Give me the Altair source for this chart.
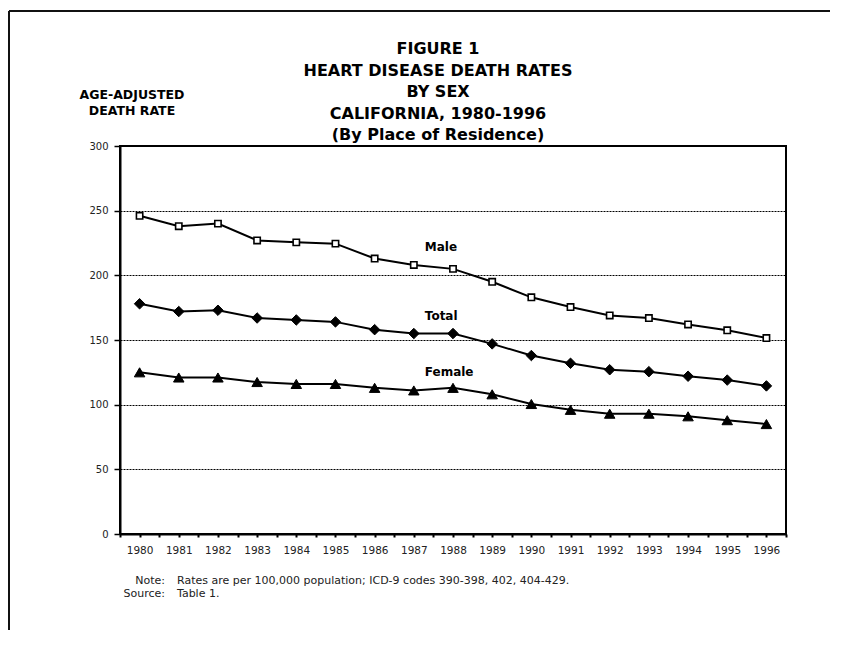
import altair as alt
import pandas as pd

# ---- data ----
years = list(range(1980, 1997))
male = [246, 238, 240, 227, 225.5, 224.5, 213, 208, 205, 195, 183, 175.5, 169, 167, 162, 157.5, 151.5]
total = [178, 172, 173, 167, 165.5, 164, 158, 155, 155, 147, 138, 132, 127, 125.5, 122, 119, 114.5]
female = [125, 121, 121, 117.5, 116, 116, 113, 111, 113, 108, 100.5, 96, 93, 93, 91, 88, 85]
series_names = ["Male", "Total", "Female"]
series_values = [male, total, female]

label_texts = ["Male", "Total", "Female"]
label_x = [1987.28, 1987.28, 1987.28]
label_y = [221.9, 168.8, 125.5]

title_lines = ["FIGURE 1", "HEART DISEASE DEATH RATES", "BY SEX",
               "CALIFORNIA, 1980-1996", "(By Place of Residence)"]
y_title_lines = ["AGE-ADJUSTED", "DEATH RATE"]
y_ticks = [0, 50, 100, 150, 200, 250, 300]
x_ticks = [1979.5 + 0.5 * i for i in range(35)]
note_heads = ["Note:", "Source:"]
note_bodies = ["Rates are per 100,000 population; ICD-9 codes 390-398, 402, 404-429.",
               "Table 1."]

FONT = "DejaVu Sans"

rows = []
for name, vals in zip(series_names, series_values):
    for yr, v in zip(years, vals):
        rows.append({"year": yr, "rate": v, "series": name})
df = pd.DataFrame(rows)
labels_df = pd.DataFrame({"year": label_x, "rate": label_y, "text": label_texts})

xs = alt.Scale(domain=[1979.5, 1996.5], nice=False, zero=False)
ys = alt.Scale(domain=[0, 300], nice=False)

x_axis = alt.Axis(values=x_ticks, title=None, grid=False,
                  labelExpr="datum.value % 1 === 0 ? toString(datum.value) : ''",
                  labelOverlap=False, labelFlush=False, tickSize=3, tickWidth=2,
                  tickColor="black", labelPadding=8, labelFontSize=10.5,
                  labelFont=FONT, labelColor="#222", domainWidth=2, domainColor="black")
y_axis = alt.Axis(values=y_ticks, grid=True, gridColor="black", gridDash=[2, 1],
                  gridWidth=1, tickSize=6, tickWidth=1.5, tickColor="black",
                  labelPadding=6, labelFontSize=10, labelFont=FONT, labelColor="#222",
                  domainWidth=2, domainColor="black",
                  title=y_title_lines, titleAngle=0, titleX=11.5, titleY=-52,
                  titleAlign="center", titleBaseline="middle", titleFont=FONT,
                  titleFontSize=12.5, titleFontWeight="bold", titleLineHeight=16,
                  titleColor="black")

X = alt.X("year:Q", scale=xs, axis=x_axis)
Y = alt.Y("rate:Q", scale=ys, axis=y_axis)

lines = alt.Chart(df).mark_line(color="black", strokeWidth=2).encode(
    x=X, y=Y, detail="series:N")

marker_spec = {
    "Male": dict(shape="square", fill="white", size=40, strokeWidth=1.6),
    "Total": dict(shape="diamond", fill="black", size=110, strokeWidth=1),
    "Female": dict(shape="triangle-up", fill="black", size=110, strokeWidth=1),
}
point_layers = []
for name in series_names:
    s = marker_spec[name]
    point_layers.append(
        alt.Chart(df).transform_filter(alt.datum.series == name).mark_point(
            shape=s["shape"], filled=True, fill=s["fill"], stroke="black",
            strokeWidth=s["strokeWidth"], size=s["size"], opacity=1
        ).encode(x=X, y=Y)
    )

series_labels = alt.Chart(labels_df).mark_text(
    align="left", baseline="middle", font=FONT, fontSize=12, fontWeight="bold",
    color="black").encode(x=X, y=Y, text="text:N")

title_df = pd.DataFrame({"text": ["\n".join(title_lines)]})
title = alt.Chart(title_df).mark_text(
    align="center", baseline="middle", font=FONT, fontSize=16, fontWeight="bold",
    lineBreak="\n", lineHeight=21.5, color="black"
).encode(x=alt.value(318), y=alt.value(-97), text="text:N")

heads_df = pd.DataFrame({"text": ["\n".join(note_heads)]})
heads = alt.Chart(heads_df).mark_text(
    align="right", baseline="middle", font=FONT, fontSize=11, lineBreak="\n",
    lineHeight=13.6, color="#222"
).encode(x=alt.value(45), y=alt.value(434.7), text="text:N")

bodies_df = pd.DataFrame({"text": ["\n".join(note_bodies)]})
bodies = alt.Chart(bodies_df).mark_text(
    align="left", baseline="middle", font=FONT, fontSize=11, lineBreak="\n",
    lineHeight=13.6, color="#222"
).encode(x=alt.value(57), y=alt.value(434.7), text="text:N")

frame_df = pd.DataFrame({"k": [0]})
frame_top = alt.Chart(frame_df).mark_rule(color="#111", strokeWidth=2).encode(
    x=alt.value(-111), x2=alt.value(710), y=alt.value(-135))
frame_left = alt.Chart(frame_df).mark_rule(color="#111", strokeWidth=2).encode(
    x=alt.value(-111), y=alt.value(-135), y2=alt.value(484))

chart = alt.layer(
    frame_top, frame_left, lines, *point_layers, series_labels, title, heads, bodies
).properties(
    width=666, height=388,
    padding={"left": 0, "top": 2, "right": 0, "bottom": 0},
    background="white",
).configure_view(stroke="black", strokeWidth=2)

chart.save("out.html", embed_options={"renderer": "svg", "actions": False})
